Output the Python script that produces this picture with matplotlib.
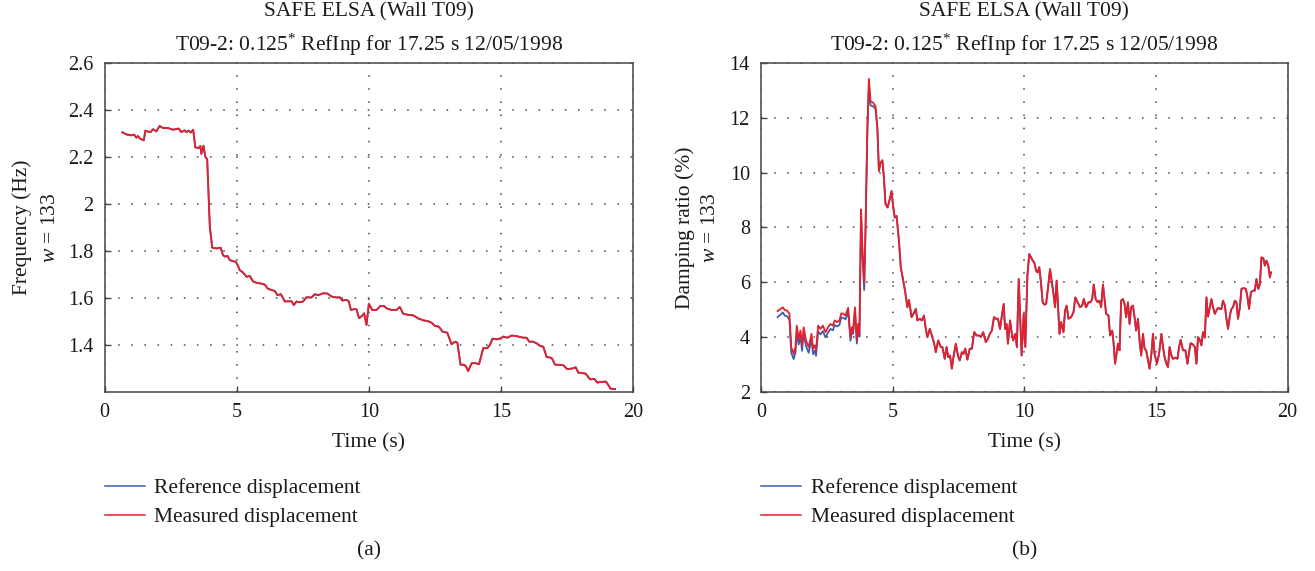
import matplotlib
matplotlib.use('Agg')
import matplotlib.pyplot as plt

plt.rcParams['font.family'] = ['Liberation Serif', 'DejaVu Serif']
plt.rcParams['mathtext.fontset'] = 'custom'
plt.rcParams['mathtext.rm'] = 'Liberation Serif'
plt.rcParams['mathtext.it'] = 'Liberation Serif:italic'
plt.rcParams['mathtext.bf'] = 'Liberation Serif:bold'

# ---------------- data: (a) frequency ----------------
time_freq = [0.67, 0.82, 1.01, 1.11, 1.20, 1.26, 1.35, 1.48, 1.54, 1.64, 1.74, 1.83, 1.96, 2.08,
             2.21, 2.40, 2.59, 2.71, 2.80, 2.90, 3.03, 3.09, 3.18, 3.26, 3.35, 3.43, 3.56, 3.62,
             3.66, 3.74, 3.81, 3.88, 3.91, 3.98, 4.07, 4.23, 4.39, 4.48, 4.55, 4.65, 4.73, 4.86,
             4.96, 5.05, 5.11, 5.24, 5.37, 5.49, 5.62, 5.74, 5.93, 6.06, 6.16, 6.31, 6.44, 6.54,
             6.67, 6.82, 6.94, 7.07, 7.16, 7.26, 7.39, 7.51, 7.64, 7.83, 7.95, 8.08, 8.27, 8.43,
             8.59, 8.78, 8.90, 8.99, 9.15, 9.24, 9.32, 9.47, 9.53, 9.63, 9.75, 9.82, 9.91, 10.00,
             10.13, 10.29, 10.44, 10.57, 10.69, 10.86, 11.05, 11.17, 11.30, 11.49, 11.68, 11.87,
             12.06, 12.25, 12.37, 12.50, 12.65, 12.79, 12.97, 13.13, 13.26, 13.35, 13.47, 13.60,
             13.67, 13.76, 13.89, 14.02, 14.17, 14.33, 14.48, 14.58, 14.68, 14.84, 14.99, 15.09,
             15.24, 15.40, 15.53, 15.69, 15.85, 15.97, 16.07, 16.22, 16.35, 16.48, 16.60, 16.73,
             16.92, 17.05, 17.20, 17.36, 17.51, 17.70, 17.83, 17.93, 18.05, 18.21, 18.37, 18.54,
             18.65, 18.78, 18.98, 19.15, 19.32]
freq_meas = [2.305, 2.296, 2.292, 2.295, 2.282, 2.289, 2.277, 2.271, 2.312, 2.308, 2.306, 2.318,
             2.309, 2.332, 2.323, 2.323, 2.316, 2.319, 2.321, 2.306, 2.313, 2.306, 2.312, 2.304,
             2.316, 2.241, 2.238, 2.247, 2.213, 2.248, 2.201, 2.190, 2.102, 1.904, 1.814, 1.811,
             1.814, 1.782, 1.776, 1.779, 1.762, 1.756, 1.755, 1.736, 1.719, 1.708, 1.690, 1.694,
             1.670, 1.665, 1.661, 1.657, 1.641, 1.634, 1.630, 1.612, 1.616, 1.585, 1.586, 1.586,
             1.570, 1.585, 1.582, 1.585, 1.603, 1.602, 1.616, 1.612, 1.620, 1.619, 1.606, 1.602,
             1.603, 1.589, 1.592, 1.586, 1.549, 1.553, 1.552, 1.514, 1.525, 1.535, 1.485, 1.575,
             1.549, 1.549, 1.566, 1.566, 1.555, 1.549, 1.549, 1.562, 1.533, 1.528, 1.526, 1.513,
             1.505, 1.501, 1.495, 1.481, 1.478, 1.457, 1.452, 1.403, 1.414, 1.410, 1.316, 1.316,
             1.310, 1.289, 1.322, 1.323, 1.318, 1.387, 1.386, 1.400, 1.427, 1.424, 1.428, 1.436,
             1.431, 1.440, 1.439, 1.435, 1.431, 1.431, 1.414, 1.414, 1.407, 1.396, 1.393, 1.349,
             1.345, 1.316, 1.316, 1.314, 1.297, 1.300, 1.305, 1.282, 1.281, 1.278, 1.254, 1.255,
             1.240, 1.243, 1.244, 1.214, 1.213]
freq_ref = list(freq_meas)

# ---------------- data: (b) damping ratio ----------------
time_damp = [0.63, 0.74, 0.83, 0.90, 0.99, 1.08, 1.15, 1.24, 1.31, 1.36, 1.43, 1.50, 1.56, 1.62,
             1.71, 1.81, 1.92, 1.98, 2.04, 2.09, 2.17, 2.26, 2.35, 2.45, 2.55, 2.64, 2.73, 2.80,
             2.89, 2.98, 3.05, 3.13, 3.21, 3.31, 3.40, 3.46, 3.50, 3.57, 3.64, 3.69, 3.74, 3.80,
             3.85, 3.92, 3.97, 4.04,
             4.10, 4.16, 4.26, 4.35, 4.42, 4.48, 4.54, 4.61, 4.67, 4.73, 4.81, 4.89, 4.96, 5.01,
             5.08, 5.15, 5.24, 5.31, 5.40, 5.47, 5.56, 5.62, 5.72, 5.79, 5.88, 5.94, 6.03, 6.11,
             6.19, 6.26, 6.32, 6.41, 6.49, 6.58, 6.64, 6.73, 6.83, 6.89, 6.98, 7.05, 7.11, 7.18,
             7.25, 7.31, 7.40, 7.48, 7.55, 7.63, 7.69, 7.76, 7.84, 7.93, 8.01, 8.10, 8.19, 8.29,
             8.35, 8.44, 8.54, 8.62, 8.69, 8.77, 8.85, 8.92, 9.00, 9.08, 9.15, 9.22, 9.27, 9.33,
             9.38, 9.46, 9.52, 9.58, 9.66, 9.72, 9.79, 9.85, 9.90, 9.98, 10.04, 10.12, 10.19,
             10.26, 10.32, 10.38, 10.45, 10.51, 10.57, 10.64, 10.70, 10.76, 10.83, 10.89, 10.98,
             11.04, 11.11, 11.17, 11.23, 11.30, 11.34, 11.40, 11.49, 11.55, 11.61, 11.68, 11.78,
             11.87, 11.94, 12.03, 12.12, 12.20, 12.26, 12.35, 12.44, 12.52, 12.58, 12.64, 12.71,
             12.79, 12.86, 12.92, 12.99, 13.05, 13.11, 13.20, 13.26, 13.34, 13.39, 13.45, 13.56,
             13.62, 13.68, 13.75, 13.81, 13.87, 13.94, 14.00, 14.06, 14.13, 14.19, 14.25, 14.32,
             14.38, 14.44, 14.51, 14.57, 14.63, 14.70, 14.76, 14.83, 14.89, 14.95, 15.04, 15.12,
             15.21, 15.27, 15.33, 15.40, 15.46, 15.52, 15.59, 15.65, 15.75, 15.82, 15.88, 15.94,
             16.03, 16.12, 16.20, 16.26, 16.32, 16.41, 16.48, 16.54, 16.60, 16.67, 16.73, 16.79,
             16.86, 16.92, 16.98, 17.05, 17.11, 17.17, 17.24, 17.30, 17.36, 17.43, 17.49, 17.55,
             17.62, 17.68, 17.74, 17.81, 17.87, 17.93, 18.00, 18.06, 18.12, 18.19, 18.25, 18.34,
             18.42, 18.48, 18.54, 18.61, 18.70, 18.76, 18.82, 18.89, 18.95, 19.01, 19.08, 19.14,
             19.20, 19.27, 19.33, 19.37]
damp_meas = [4.95, 5.03, 5.09, 4.99, 4.97, 4.85, 3.64, 3.39, 3.64, 4.42, 3.94, 4.24, 3.70, 4.36,
             3.88, 3.64, 4.12, 3.58, 3.70, 3.52, 4.42, 4.30, 4.42, 4.18, 4.36, 4.48, 4.42, 4.61,
             4.55, 4.61, 4.87, 4.85, 4.79, 5.07, 4.00, 4.36, 4.24, 5.09, 3.88, 4.48, 4.12, 8.66,
             7.27, 6.00, 8.00, 11.64,
             13.42, 12.60, 12.55, 12.42, 11.64, 10.06, 10.36, 10.45, 9.82, 8.85, 8.73, 9.03, 9.33,
             8.85, 8.36, 8.42, 7.52, 6.55, 6.06, 5.70, 5.09, 5.36, 4.73, 4.85, 5.03, 4.61, 4.67,
             4.61, 4.79, 4.30, 4.00, 4.30, 4.06, 3.76, 3.45, 3.88, 3.64, 3.64, 3.21, 3.64, 3.27,
             3.33, 2.85, 3.27, 3.76, 3.33, 3.15, 3.45, 3.39, 3.58, 3.18, 3.58, 3.58, 4.18, 4.06,
             4.06, 4.00, 4.18, 3.82, 3.94, 4.12, 4.24, 4.73, 4.67, 4.67, 4.30, 4.79, 5.21, 4.30,
             4.48, 3.76, 4.61, 4.18, 3.88, 4.12, 3.64, 6.12, 4.55, 3.33, 4.85, 3.64, 6.25, 7.03,
             6.91, 6.79, 6.73, 6.42, 6.36, 6.55, 5.94, 5.27, 5.19, 5.21, 5.70, 6.48,
             6.06, 5.58, 5.09, 6.06, 4.85, 4.12, 4.55, 4.18, 4.97, 5.15, 4.67, 4.73,
             4.91, 5.45, 5.27, 5.09, 5.15, 5.39, 5.09, 5.27, 5.27, 5.39, 5.92, 5.39,
             5.27, 5.33, 5.09, 5.92, 5.39, 4.85, 4.79, 4.06, 4.24, 3.82, 3.03, 3.76,
             3.52, 5.33, 5.39, 5.21, 4.73, 5.27, 4.48, 5.09, 5.15, 4.73, 4.24, 4.67,
             3.88, 3.33, 4.12, 3.58, 3.52, 3.15, 2.85, 3.39, 4.12, 3.39, 3.03, 3.39,
             4.12, 3.64, 3.27, 3.03, 2.91, 3.64, 3.33, 3.21, 3.25, 3.21, 3.64, 3.90,
             3.52, 3.52, 3.03, 3.45, 3.78, 3.73, 3.64, 3.03, 4.00, 3.90, 3.70, 4.18,
             3.98, 5.45, 4.75, 5.09, 5.39, 5.09, 4.85, 4.97, 5.07, 5.03, 5.03, 5.33,
             5.15, 4.67, 4.30, 4.79, 5.03, 5.09, 5.33, 5.27, 4.67, 5.09, 5.76, 5.79,
             5.76, 5.45, 5.03, 5.64, 5.70, 5.70, 6.12, 5.76, 5.94, 6.91, 6.88, 6.61,
             6.79, 6.61, 6.18, 6.36]
damp_ref_early = [4.73, 4.82, 4.90, 4.79, 4.76, 4.64, 3.43, 3.20, 3.44, 4.21, 3.73, 4.03, 3.50,
                  4.15, 3.67, 3.43, 3.91, 3.38, 3.50, 3.32, 4.21, 4.10, 4.22, 3.99, 4.17, 4.30,
                  4.25, 4.44, 4.39, 4.45, 4.72, 4.70, 4.65, 4.93, 3.87, 4.23, 4.12, 4.97, 3.77,
                  4.37, 4.02, 8.50, 7.05, 5.72, 7.80, 11.45,
                  13.25, 12.45, 12.42, 12.32]
damp_ref = damp_ref_early + damp_meas[len(damp_ref_early):]

title_text = 'SAFE ELSA (Wall T09)\nT09-2: 0.125$^{*}$ RefInp for 17.25 s 12/05/1998'
legend_labels = ['Reference displacement', 'Measured displacement']
xlabel_text = 'Time (s)'
ylabel_a = 'Frequency (Hz)\n$w$ = 133'
ylabel_b = 'Damping ratio (%)\n$w$ = 133'
xticks = [0, 5, 10, 15, 20]
yticks_a = [1.4, 1.6, 1.8, 2.0, 2.2, 2.4, 2.6]
yticklabels_a = ['1.4', '1.6', '1.8', '2', '2.2', '2.4', '2.6']
yticks_b = [2, 4, 6, 8, 10, 12, 14]

BLUE = '#3d5caa'
RED = '#e5202b'
FS = 15.5
FS_TICK = 14.5
TXT = '#1a1a1a'

fig = plt.figure(figsize=(13.15, 5.71), dpi=100)
ax1 = fig.add_axes([0.0796, 0.3135, 0.4018, 0.5762])
ax2 = fig.add_axes([0.5787, 0.3135, 0.4004, 0.5762])


def style(ax):
    for s in ax.spines.values():
        s.set_color('#444444')
        s.set_linewidth(1.1)
    ax.tick_params(direction='in', length=4, width=1, colors='#444444',
                   labelcolor=TXT, labelsize=FS_TICK, pad=8)
    ax.grid(True, linestyle=(0, (1.0, 7.6)), color='#444444', linewidth=1.1)
    ax.set_axisbelow(True)
    ax.set_xlim(0, 20)
    ax.set_xticks(xticks)
    ax.set_xlabel(xlabel_text, fontsize=FS, labelpad=8, color=TXT)
    ax.set_title(title_text, fontsize=FS, linespacing=1.5, pad=9, color=TXT)


ax1.plot(time_freq, freq_ref, color=BLUE, lw=1.3, label=legend_labels[0])
ax1.plot(time_freq, freq_meas, color=RED, lw=1.3, label=legend_labels[1])
style(ax1)
ax1.set_ylim(1.2, 2.6)
ax1.set_yticks(yticks_a)
ax1.set_yticklabels(yticklabels_a)
ax1.set_ylabel(ylabel_a, fontsize=FS, labelpad=6, linespacing=1.6, color=TXT)

ax2.plot(time_damp, damp_ref, color=BLUE, lw=1.3, label=legend_labels[0])
ax2.plot(time_damp, damp_meas, color=RED, lw=1.3, label=legend_labels[1])
style(ax2)
ax2.set_ylim(2, 14)
ax2.set_yticks(yticks_b)
ax2.set_ylabel(ylabel_b, fontsize=FS, labelpad=7, linespacing=1.45, color=TXT)

for ax in (ax1, ax2):
    leg = ax.legend(loc='upper left', bbox_to_anchor=(0.0, -0.262), frameon=False,
                    fontsize=FS, borderaxespad=0, borderpad=0, handlelength=1.85,
                    handletextpad=0.45, labelspacing=0.42)
    for h in leg.get_lines():
        h.set_linewidth(1.1)
    for t in leg.get_texts():
        t.set_color(TXT)

fig.text(369 / 1315, 1 - 551 / 571, '(a)', ha='center', va='center', fontsize=FS, color=TXT)
fig.text(1025 / 1315, 1 - 551 / 571, '(b)', ha='center', va='center', fontsize=FS, color=TXT)

fig.savefig('out.png', dpi=100)
